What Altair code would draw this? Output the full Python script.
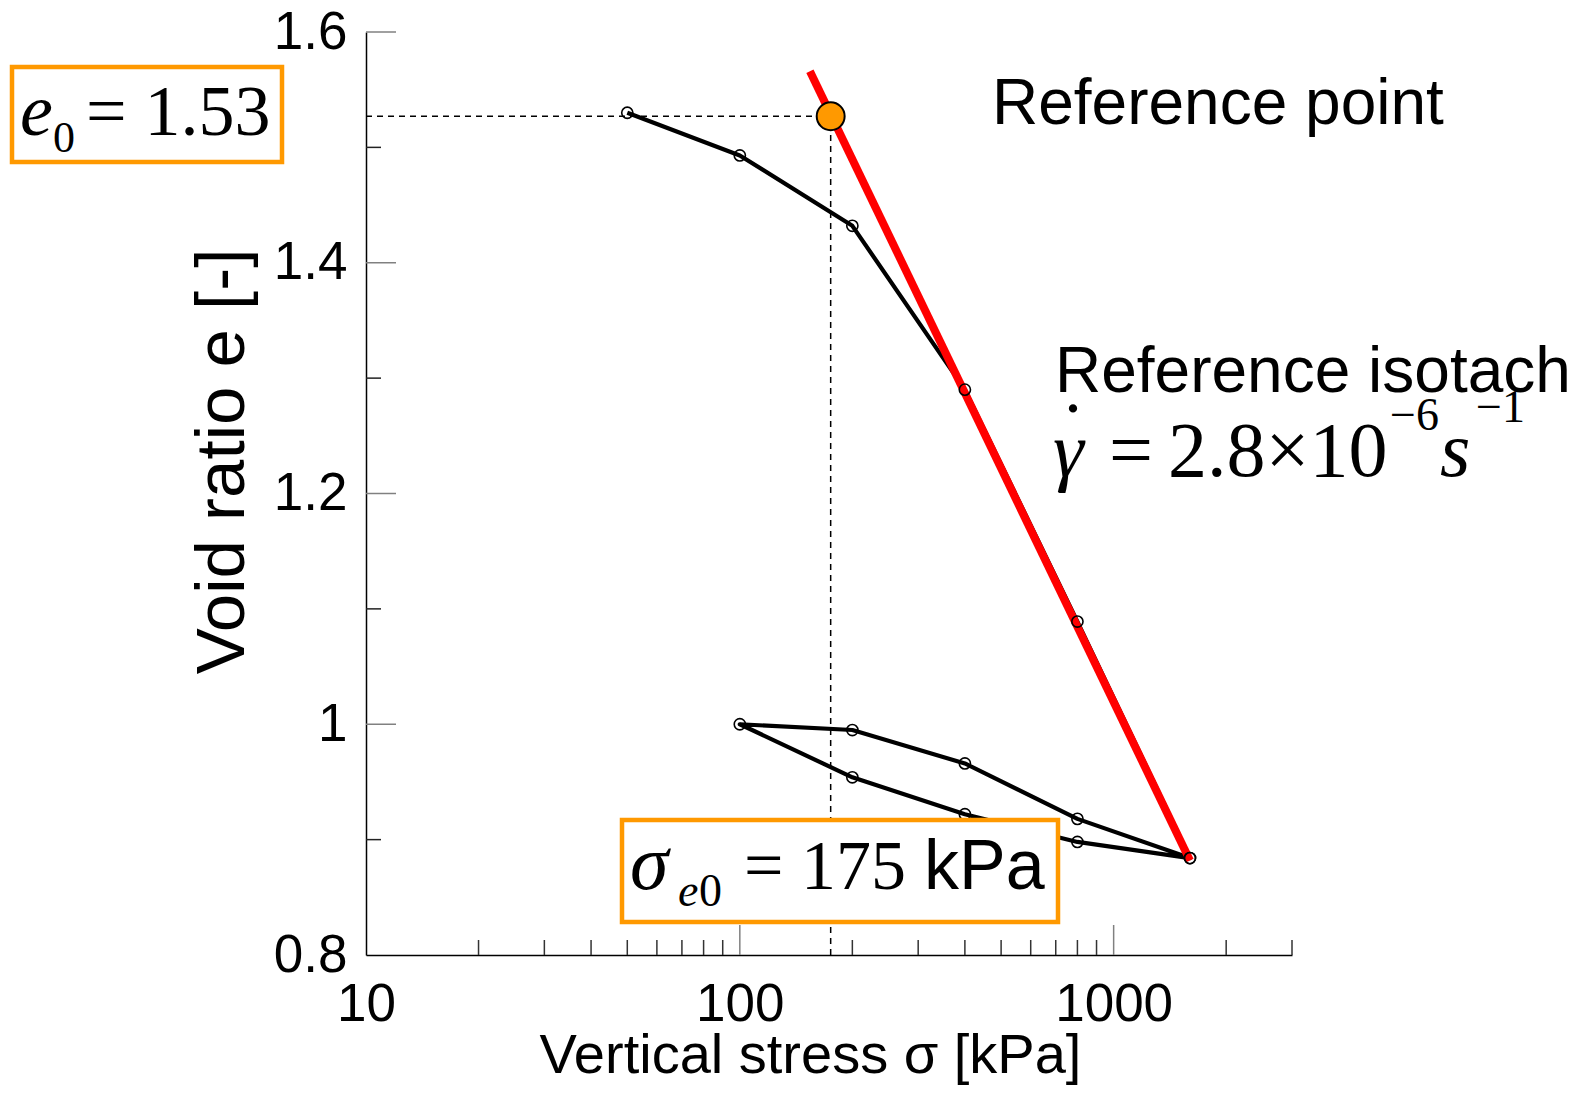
import altair as alt
import pandas as pd

# ---------------- data ----------------
load_sigma = [50, 100, 200, 400, 800, 1600]
load_e = [1.530, 1.493, 1.432, 1.290, 1.089, 0.884]
unload_sigma = [1600, 800, 400, 200, 100]
unload_e = [0.884, 0.898, 0.922, 0.954, 1.000]
reload_sigma = [100, 200, 400, 800, 1600]
reload_e = [1.000, 0.995, 0.966, 0.918, 0.884]
isotach_sigma = [154, 1600]
isotach_e = [1.566, 0.882]
ref_sigma = [175]
ref_e = [1.527]

x_major = [100, 1000]
x_minor = [20, 30, 40, 50, 60, 70, 80, 90, 200, 300, 400, 500, 600, 700, 800, 900, 2000, 3000]
y_major = [1.0, 1.2, 1.4, 1.6]
y_minor = [0.9, 1.1, 1.3, 1.5]
x_labels = [10, 100, 1000]
y_labels = [0.8, 1.0, 1.2, 1.4, 1.6]

# ---------------- layout / style ----------------
W, H = 926, 923
SANS = "Liberation Sans"
SERIF = "Liberation Serif"
ORANGE = "#FF9900"

path_sigma = load_sigma + unload_sigma[1:] + reload_sigma[1:]
path_e = load_e + unload_e[1:] + reload_e[1:]
path_df = pd.DataFrame({"sigma": path_sigma, "e": path_e, "order": list(range(len(path_sigma)))})
iso_df = pd.DataFrame({"sigma": isotach_sigma, "e": isotach_e})
ref_df = pd.DataFrame({"sigma": ref_sigma, "e": ref_e, "sigma0": [10] * len(ref_sigma), "efloor": [0.8] * len(ref_e)})

x_scale = alt.Scale(type="log", domain=[10, 3000], nice=False)
y_scale = alt.Scale(domain=[0.8, 1.6], nice=False, zero=False)

x_axis = alt.Axis(values=x_labels, format="d", ticks=False, grid=False,
                  labelFontSize=53, labelFont=SANS, labelColor="black", labelPadding=23,
                  labelFlush=False, labelOverlap=False,
                  domainColor="black", domainWidth=1.5,
                  title="Vertical stress σ [kPa]", titleFont=SANS, titleFontSize=56,
                  titleFontWeight="normal", titleColor="black",
                  titleX=444, titleY=117, titleBaseline="alphabetic", titleAlign="center")
y_axis = alt.Axis(values=y_labels, format="~g", ticks=False, grid=False,
                  labelFontSize=53, labelFont=SANS, labelColor="black", labelPadding=19,
                  labelFlush=False, labelOverlap=False,
                  domainColor="black", domainWidth=1.5,
                  title="Void ratio e [-]", titleFont=SANS, titleFontSize=69,
                  titleFontWeight="normal", titleColor="black",
                  titleAngle=270, titleX=-123, titleY=429, titleBaseline="alphabetic",
                  titleAlign="center")

X = lambda f: alt.X(f, scale=x_scale, axis=x_axis)
Y = lambda f: alt.Y(f, scale=y_scale, axis=y_axis)

# dashed guide lines
dash_h = alt.Chart(ref_df).mark_rule(color="black", strokeWidth=1.5, strokeDash=[6, 5]).encode(
    x=X("sigma0:Q"), x2="sigma:Q", y=Y("e:Q"))
dash_v = alt.Chart(ref_df).mark_rule(color="black", strokeWidth=1.5, strokeDash=[6, 5]).encode(
    x=X("sigma:Q"), y=Y("efloor:Q"), y2="e:Q")

path_line = alt.Chart(path_df).mark_line(color="black", strokeWidth=4.2, strokeJoin="round").encode(
    x=X("sigma:Q"), y=Y("e:Q"), order="order:Q")
iso_line = alt.Chart(iso_df).mark_line(color="#FF0000", strokeWidth=8).encode(
    x=X("sigma:Q"), y=Y("e:Q"))
pts = alt.Chart(path_df).mark_point(shape="circle", filled=False, size=125, color="black",
                                    strokeWidth=1.6, opacity=1).encode(x=X("sigma:Q"), y=Y("e:Q"))
ref_pt = alt.Chart(ref_df).mark_circle(size=780, color=ORANGE, stroke="black", strokeWidth=2,
                                       opacity=1).encode(x=X("sigma:Q"), y=Y("e:Q"))

# axis ticks (inward)
ytick_major = alt.Chart(pd.DataFrame({"e": y_major})).mark_rule(color="#808080", strokeWidth=1.5).encode(
    y=Y("e:Q"), x=alt.value(0), x2=alt.value(30))
ytick_minor = alt.Chart(pd.DataFrame({"e": y_minor})).mark_rule(color="#222222", strokeWidth=1.5).encode(
    y=Y("e:Q"), x=alt.value(0), x2=alt.value(15))
xtick_major = alt.Chart(pd.DataFrame({"sigma": x_major})).mark_rule(color="#808080", strokeWidth=1.5).encode(
    x=X("sigma:Q"), y=alt.value(H), y2=alt.value(H - 30))
xtick_minor = alt.Chart(pd.DataFrame({"sigma": x_minor})).mark_rule(color="#333333", strokeWidth=1.5).encode(
    x=X("sigma:Q"), y=alt.value(H), y2=alt.value(H - 15))

one = pd.DataFrame({"k": [0]})


def box(x1, x2, y1, y2):
    return alt.Chart(one).mark_rect(fill="white", stroke=ORANGE, strokeWidth=4.5).encode(
        x=alt.value(x1), x2=alt.value(x2), y=alt.value(y1), y2=alt.value(y2))


def label(text, x, y, size, font=SANS, style="normal", align="left"):
    return alt.Chart(one).mark_text(text=text, fontSize=size, font=font, fontStyle=style,
                                    align=align, baseline="alphabetic", color="black").encode(
        x=alt.value(x), y=alt.value(y))


annots = [
    box(-354, -84, 35, 130),
    label("e", -346, 103, 74, SERIF, "italic"),
    label("0", -313, 120, 44, SERIF),
    label("= 1.53", -280, 103, 72, SERIF),
    box(256, 692, 788, 890),
    label("σ", 264, 857, 78, SERIF, "italic"),
    label("e", 312, 874, 46, SERIF, "italic"),
    label("0", 333, 874, 46, SERIF),
    label("= 175", 378, 857, 70, SERIF),
    label("kPa", 558, 857, 70, SANS),
    label("Reference point", 626, 92, 64),
    label("Reference isotach", 689, 360, 64),
    label("γ", 687, 444, 78, SERIF, "italic"),
    label(".", 707, 380, 70, SERIF, "normal", "center"),
    label("=", 743, 444, 78, SERIF),
    label("2.8×10", 802, 444, 78, SERIF),
    label("−6", 1024, 398, 46, SERIF),
    label("s", 1074, 444, 78, SERIF, "italic"),
    label("−1", 1110, 390, 46, SERIF),
]

chart = alt.layer(
    dash_h, dash_v, path_line, iso_line, pts, ref_pt,
    ytick_major, ytick_minor, xtick_major, xtick_minor,
    *annots
).properties(
    width=W, height=H,
    padding={"left": 358, "top": 24, "right": 285, "bottom": 131},
    autosize=alt.AutoSizeParams(type="none"),
    background="white",
).configure_view(stroke=None)

chart.save("out.html", embed_options={"renderer": "svg", "actions": False})
